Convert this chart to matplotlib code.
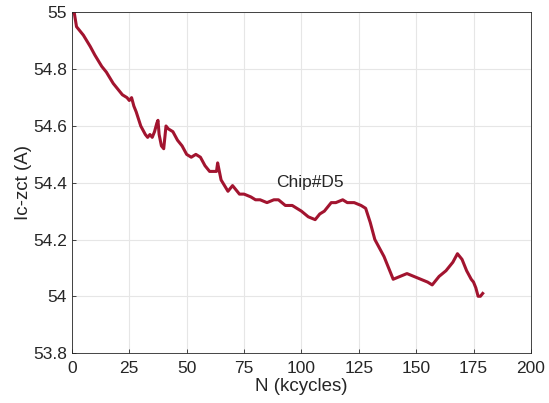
import matplotlib.pyplot as plt

# N (kcycles) et Ic-zct (A)
n_kcycles = [0, 1, 2, 5, 8, 10, 13, 15, 18, 20, 22, 24, 25, 26, 27, 28, 30, 32, 33, 34, 35,
             36, 37, 37.5, 38, 39, 40, 41, 42, 44, 46, 48, 50, 52, 54, 56, 58, 60, 62, 63,
             63.5, 65, 68, 70, 73, 75, 78, 80, 82, 85, 88, 90, 93, 96, 100, 103, 106, 108,
             110, 113, 115, 118, 120, 123, 126, 128, 130, 132, 134, 136, 138, 139, 140,
             143, 146, 149, 152, 155, 157, 158, 160, 163, 166, 168, 170, 172, 174, 175,
             176, 177, 178, 179]
ic_zct = [55.0, 55.0, 54.95, 54.92, 54.88, 54.85, 54.81, 54.79, 54.75, 54.73, 54.71, 54.70,
          54.69, 54.70, 54.67, 54.65, 54.60, 54.57, 54.56, 54.57, 54.56, 54.58, 54.61, 54.62,
          54.57, 54.53, 54.52, 54.60, 54.59, 54.58, 54.55, 54.53, 54.50, 54.49, 54.50, 54.49,
          54.46, 54.44, 54.44, 54.44, 54.47, 54.41, 54.37, 54.39, 54.36, 54.36, 54.35, 54.34,
          54.34, 54.33, 54.34, 54.34, 54.32, 54.32, 54.30, 54.28, 54.27, 54.29, 54.30, 54.33,
          54.33, 54.34, 54.33, 54.33, 54.32, 54.31, 54.26, 54.20, 54.17, 54.14, 54.10, 54.08,
          54.06, 54.07, 54.08, 54.07, 54.06, 54.05, 54.04, 54.05, 54.07, 54.09, 54.12, 54.15,
          54.13, 54.09, 54.06, 54.05, 54.03, 54.00, 54.00, 54.01]

x_ticks = [0, 25, 50, 75, 100, 125, 150, 175, 200]
y_ticks = [53.8, 54, 54.2, 54.4, 54.6, 54.8, 55]
y_tick_labels = ['53.8', '54', '54.2', '54.4', '54.6', '54.8', '55']

plt.rcParams['font.family'] = ['Liberation Sans', 'DejaVu Sans']

fig = plt.figure(figsize=(5.49, 4.03), dpi=100)
ax = fig.add_axes([0.131, 0.124, 0.836, 0.845])

ax.plot(n_kcycles, ic_zct, color='#A2142F', linewidth=2.2)
ax.text(89, 54.40, 'Chip#D5', fontsize=12.5, color='#262626', va='center')

ax.set_xlim(0, 200)
ax.set_ylim(53.8, 55)
ax.set_xticks(x_ticks)
ax.set_yticks(y_ticks)
ax.set_yticklabels(y_tick_labels)
ax.grid(True, color='#e6e6e6', linewidth=0.8)
ax.set_axisbelow(True)
ax.tick_params(direction='in', labelsize=12.5, labelcolor='#262626', color='#262626',
               length=3, width=0.6, top=False, right=False)
ax.tick_params(axis='x', pad=6)
for s in ax.spines.values():
    s.set_color('#262626')
    s.set_linewidth(0.6)

ax.set_xlabel('N (kcycles)', fontsize=13.5, color='#262626', labelpad=1)
ax.set_ylabel('Ic-zct (A)', fontsize=13.5, color='#262626', labelpad=1)

fig.savefig('out.png', dpi=100)
